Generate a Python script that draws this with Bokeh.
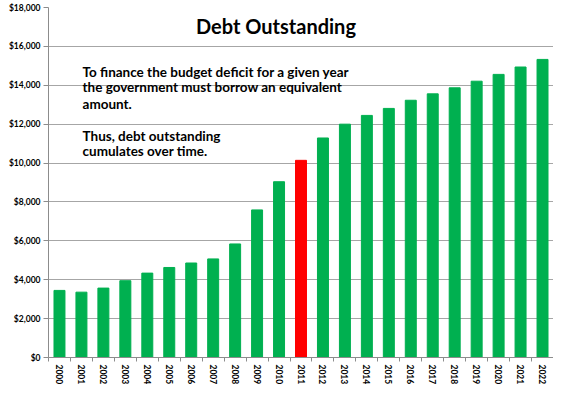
from bokeh.plotting import figure
from bokeh.models import ColumnDataSource, FixedTicker, NumeralTickFormatter, Label, Range1d
from bokeh.embed import file_html
from bokeh.resources import INLINE

years = ["2000", "2001", "2002", "2003", "2004", "2005", "2006", "2007", "2008", "2009", "2010",
         "2011", "2012", "2013", "2014", "2015", "2016", "2017", "2018", "2019", "2020", "2021", "2022"]
debt = [3450, 3360, 3570, 3950, 4340, 4630, 4860, 5070, 5840, 7590, 9040,
        10140, 11290, 12000, 12450, 12810, 13230, 13560, 13870, 14210, 14560, 14940, 15330]
highlight_year = "2011"
y_ticks = [0, 2000, 4000, 6000, 8000, 10000, 12000, 14000, 16000, 18000]

GREEN = "#00B050"
RED = "#FF0000"
FONT = "Lato"

xs = list(range(len(years)))
colors = [RED if y == highlight_year else GREEN for y in years]
src = ColumnDataSource(dict(x=xs, top=debt, color=colors))

p = figure(width=553, height=387, output_backend="svg", toolbar_location=None,
           x_range=Range1d(-0.5, len(years) - 0.5), y_range=Range1d(0, 18000),
           min_border_left=48, min_border_right=0, min_border_top=7, min_border_bottom=0)
p.outline_line_color = None
p.background_fill_color = "white"

p.vbar(x="x", top="top", width=0.5, color="color", source=src)

# axes
p.xaxis.ticker = FixedTicker(ticks=xs, minor_ticks=[i - 0.5 for i in range(len(years) + 1)])
p.xaxis.major_label_overrides = {i: y for i, y in enumerate(years)}
p.xaxis.major_label_orientation = "vertical"
p.xaxis.major_tick_line_color = None
p.xaxis.major_tick_out = 0
p.xaxis.major_tick_in = 0
p.xaxis.minor_tick_out = 4
p.xaxis.minor_tick_in = 0
p.xaxis.minor_tick_line_color = "#8c8c8c"
p.xaxis.axis_line_color = "#8c8c8c"
p.xaxis.major_label_text_font = FONT
p.xaxis.major_label_text_font_style = "bold"
p.xaxis.major_label_text_font_size = "8.5px"
p.xaxis.major_label_text_color = "black"
p.xaxis.major_label_standoff = 3

p.yaxis.ticker = FixedTicker(ticks=y_ticks)
p.yaxis.formatter = NumeralTickFormatter(format="$0,0")
p.yaxis.minor_tick_line_color = None
p.yaxis.major_tick_out = 5
p.yaxis.major_tick_in = 0
p.yaxis.major_tick_line_color = "#8c8c8c"
p.yaxis.axis_line_color = "#8c8c8c"
p.yaxis.major_label_text_font = FONT
p.yaxis.major_label_text_font_style = "bold"
p.yaxis.major_label_text_font_size = "8.5px"
p.yaxis.major_label_text_color = "black"
p.yaxis.major_label_standoff = 3

p.xgrid.grid_line_color = None
p.ygrid.ticker = FixedTicker(ticks=y_ticks)
p.ygrid.grid_line_color = "#a6a6a6"
p.ygrid.grid_line_width = 1

# title and notes
p.add_layout(Label(x=9.86, y=17050, text="Debt Outstanding", text_align="center",
                   text_baseline="middle", text_font=FONT, text_font_style="bold",
                   text_font_size="20px", text_color="black"))
notes = [("To finance the budget deficit for a given year", 14700),
         ("the government must borrow an equivalent", 13890),
         ("amount.", 13050),
         ("Thus, debt outstanding", 11400),
         ("cumulates over time.", 10630)]
for t, yv in notes:
    p.add_layout(Label(x=1.05, y=yv, text=t, text_align="left", text_baseline="middle",
                       text_font=FONT, text_font_style="bold", text_font_size="13.5px",
                       text_color="black"))

open("out.html", "w").write(file_html(p, INLINE))
